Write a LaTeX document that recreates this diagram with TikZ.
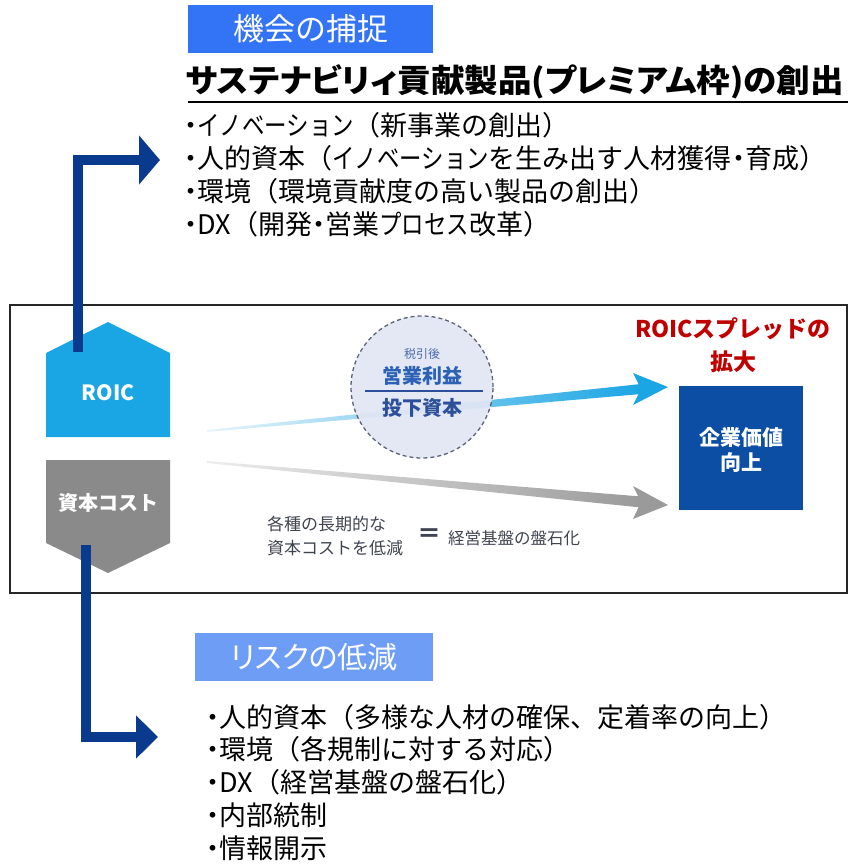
\documentclass[tikz,border=0pt]{standalone}
\usepackage{fontspec}
\setmainfont{Noto Sans CJK JP}
\newfontfamily\jpp{Noto Sans CJK JP}[RawFeature=+palt]
\usetikzlibrary{arrows.meta}
\definecolor{headA}{HTML}{3373F6}
\definecolor{headB}{HTML}{6E9DF5}
\definecolor{navy}{HTML}{0A3A8E}
\definecolor{roicC}{HTML}{1AA6E4}
\definecolor{roicL}{HTML}{E8F4FB}
\definecolor{costC}{HTML}{8A8A8A}
\definecolor{grayL}{HTML}{EDEDED}
\definecolor{grayD}{HTML}{9A9A9A}
\definecolor{valC}{HTML}{0B4EA3}
\definecolor{redT}{HTML}{C00000}
\definecolor{circF}{HTML}{E2E6F4}
\definecolor{circB}{HTML}{5B6378}
\definecolor{opC}{HTML}{2C62B5}
\definecolor{icC}{HTML}{2B4F9B}
\definecolor{taxC}{HTML}{4A6AA8}
\definecolor{noteC}{HTML}{3F4450}
\newcommand{\jfs}[1]{\fontsize{#1}{#1}\selectfont}
\newcommand{\dotb}{\makebox[0.5em]{・}}
\newcommand{\kt}[1]{\scalebox{0.83}[1]{#1}}
\begin{document}
\begin{tikzpicture}[x=1pt,y=-1pt,
  every node/.style={inner sep=0pt,outer sep=0pt},
  headbox/.style={text=white,minimum height=48pt},
  bullet/.style={anchor=west,text=black,font=\jfs{27}},
  navyarrow/.style={draw=navy,line width=10pt,line join=miter},
  whitebold/.style={text=white,font=\bfseries},
  note/.style={anchor=west,text=noteC}]
\useasboundingbox (0,0) rectangle (848,865);

% headings
\node[headbox,fill=headA,minimum width=245pt] (h1) at (310.5,29) {\jfs{31}機会の捕捉};
\node[headbox,fill=headB,minimum width=238pt] (h2) at (314,657) {\jpp\jfs{30}リスクの低減};

% title
\node[anchor=west] (title) at (186,82) {\scalebox{1.048}[1]{\jpp\bfseries\jfs{32}サステナビリィ貢献製品(プレミアム枠)の創出}};
\draw[line width=2.5pt] (188,102) -- (848,102);

% upper bullets
\node[bullet] (u1) at (184,125) {\dotb\kt{イノベーション}（新事業の創出）};
\node[bullet] (u2) at (184,158) {\dotb 人的資本（\kt{イノベーション}を生み出す人材獲得\dotb 育成）};
\node[bullet] (u3) at (184,191) {\dotb 環境（環境貢献度の高い製品の創出）};
\node[bullet] (u4) at (184,224) {\dotb DX（開発\dotb 営業\kt{プロセス}改革）};

% lower bullets
\node[bullet] (l1) at (206,717) {\dotb 人的資本（多様な人材の確保、定着率の向上）};
\node[bullet] (l2) at (206,749) {\dotb 環境（各規制に対する対応）};
\node[bullet] (l3) at (206,782) {\dotb DX（経営基盤の盤石化）};
\node[bullet] (l4) at (206,815) {\dotb 内部統制};
\node[bullet] (l5) at (206,848) {\dotb 情報開示};

% frame
\draw[line width=1.5pt,draw=black!85] (10,305) rectangle (847,593);

% ROIC and cost shapes
\fill[roicC] (46,353) -- (108,322) -- (170,353) -- (170,437) -- (46,437) -- cycle;
\node[whitebold] (roic) at (108,393) {\jfs{21}ROIC};
\fill[costC] (46,460) -- (170,460) -- (170,543) -- (108,573) -- (46,543) -- cycle;
\node[whitebold] (cost) at (108,503) {\jfs{20}資本コスト};

% spread arrows
\shade[left color=roicL,right color=roicC] (207,430) -- (641,384) -- (641,394) -- (207,432) -- cycle;
\fill[roicC] (633,373) -- (668,387) -- (633,405) -- (641,389) -- cycle;
\shade[left color=grayL,right color=grayD] (207,461) -- (641,496.5) -- (641,507.5) -- (207,463) -- cycle;
\fill[grayD] (633,486) -- (668,505) -- (633,519) -- (641,502) -- cycle;

% ratio circle
\node[circle,draw=circB,line width=1.3pt,dash pattern=on 4pt off 3pt,fill=circF,fill opacity=0.92,minimum size=142pt] (ratio) at (422,387) {};
\node[text=taxC] (tax) at (422,354) {\jfs{12}税引後};
\node[text=opC,font=\bfseries] (op) at (422,376) {\jfs{20}営業利益};
\draw[line width=1.2pt,draw=icC] (365,391) -- (483,391);
\node[text=icC,font=\bfseries] (ic) at (422,408) {\jfs{20}投下資本};

% value box
\node[fill=valC,minimum width=124pt,minimum height=124pt] (val) at (741,448) {};
\node[whitebold] (v1) at (741,437) {\jfs{21}企業価値};
\node[whitebold] (v2) at (741,463) {\jfs{21}向上};

% red label
\node[text=redT,font=\bfseries] (sp1) at (733,329) {\jfs{23}ROICスプレッドの};
\node[text=redT,font=\bfseries] (sp2) at (733,362) {\jfs{23}拡大};

% note
\node[note] (n1) at (267,524) {\jfs{17}各種の長期的な};
\node[note] (n2) at (267,548) {\jfs{17}資本コストを低減};
\node[text=noteC,font=\bfseries] (eq) at (429,536) {\jfs{24}＝};
\node[note] (n3) at (448,538) {\jfs{16.5}経営基盤の盤石化};

% navy connectors
\coordinate (roicIn) at (78,352);
\coordinate (oppTip) at (160,160);
\coordinate (costIn) at (86,545);
\coordinate (riskTip) at (158,737);
\draw[navyarrow,-{Triangle[length=21pt,width=48pt]}] (roicIn) |- (oppTip);
\draw[navyarrow,-{Triangle[length=22pt,width=42pt]}] (costIn) |- (riskTip);
\end{tikzpicture}
\end{document}
